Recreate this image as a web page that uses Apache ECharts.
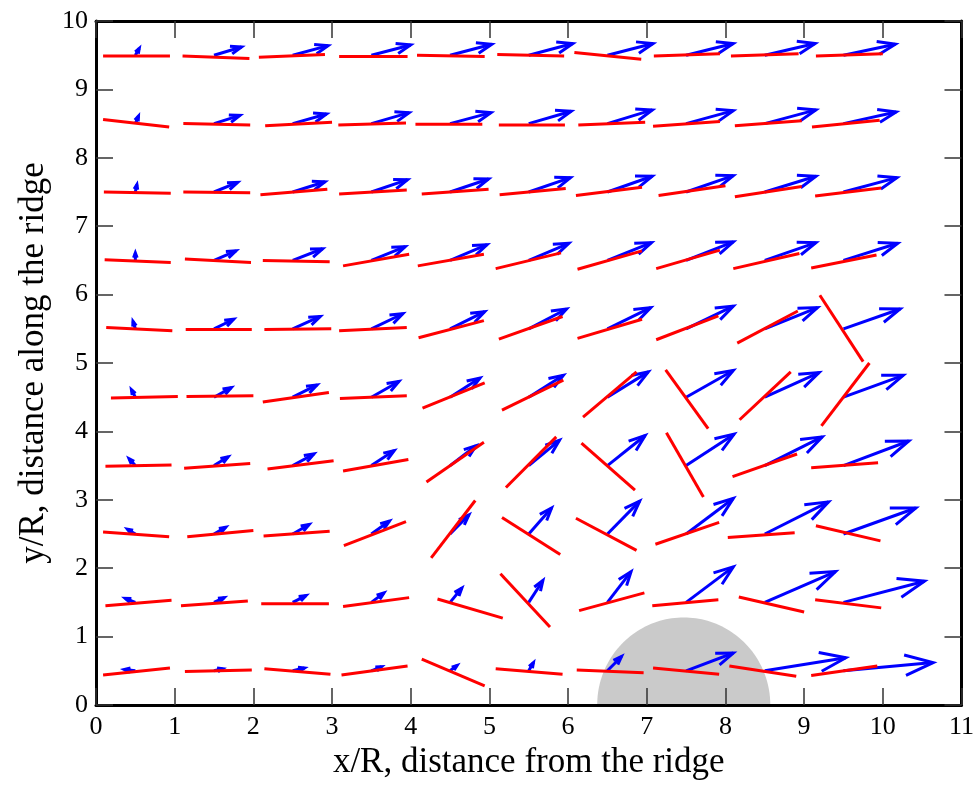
<!DOCTYPE html>
<html>
<head>
<meta charset="utf-8">
<script src="https://cdn.jsdelivr.net/npm/echarts@6/dist/echarts.min.js"></script>
<style>html,body{margin:0;padding:0;background:#fff}#c{width:977px;height:790px}</style>
</head>
<body>
<div id="c"></div>
<script>
// grid point positions (x/R and y/R)
const colX = [0.5, 1.5, 2.5, 3.5, 4.5, 5.5, 6.5, 7.5, 8.5, 9.5];
const rowY = [0.5, 1.5, 2.5, 3.5, 4.5, 5.5, 6.5, 7.5, 8.5, 9.5];

// blue arrows: components (u, v) in data units, rows from y=0.5 upward
const blueU = [
  [-0.14, 0.11, 0.15, 0.13, 0.09, 0.06, 0.18, 0.60, 1.03, 1.14],
  [-0.13, 0.13, 0.17, 0.16, 0.15, 0.18, 0.30, 0.60, 0.90, 1.03],
  [-0.10, 0.15, 0.21, 0.23, 0.24, 0.29, 0.41, 0.60, 0.81, 0.92],
  [-0.08, 0.18, 0.27, 0.29, 0.33, 0.39, 0.48, 0.61, 0.73, 0.83],
  [-0.05, 0.22, 0.31, 0.35, 0.38, 0.44, 0.52, 0.60, 0.69, 0.76],
  [-0.03, 0.25, 0.35, 0.40, 0.44, 0.48, 0.55, 0.60, 0.67, 0.72],
  [ 0.00, 0.28, 0.38, 0.43, 0.47, 0.51, 0.56, 0.60, 0.65, 0.69],
  [ 0.02, 0.30, 0.41, 0.46, 0.49, 0.53, 0.57, 0.60, 0.65, 0.68],
  [ 0.04, 0.33, 0.43, 0.48, 0.52, 0.54, 0.57, 0.60, 0.65, 0.67],
  [ 0.05, 0.35, 0.45, 0.50, 0.53, 0.56, 0.58, 0.60, 0.64, 0.66]
];
const blueV = [
  [0.02, 0.03, 0.04, 0.06, 0.08, 0.12, 0.21, 0.26, 0.19, 0.12],
  [0.06, 0.07, 0.10, 0.14, 0.21, 0.32, 0.45, 0.52, 0.45, 0.31],
  [0.07, 0.10, 0.14, 0.19, 0.28, 0.38, 0.48, 0.52, 0.47, 0.38],
  [0.10, 0.13, 0.17, 0.22, 0.29, 0.37, 0.44, 0.46, 0.42, 0.36],
  [0.11, 0.14, 0.18, 0.23, 0.28, 0.32, 0.37, 0.39, 0.36, 0.32],
  [0.11, 0.14, 0.18, 0.22, 0.25, 0.29, 0.31, 0.33, 0.31, 0.29],
  [0.11, 0.14, 0.17, 0.20, 0.23, 0.25, 0.26, 0.27, 0.26, 0.25],
  [0.11, 0.14, 0.15, 0.18, 0.19, 0.21, 0.23, 0.24, 0.23, 0.21],
  [0.11, 0.12, 0.14, 0.16, 0.16, 0.18, 0.20, 0.19, 0.20, 0.17],
  [0.10, 0.12, 0.14, 0.15, 0.16, 0.17, 0.17, 0.17, 0.17, 0.16]
];

// red segments: end offsets [x1, y1, x2, y2] from the grid point, data units
const redSeg = [
  [[-0.41,-0.06,0.44,0.04],[-0.37,-0.01,0.48,0.01],[-0.36,0.03,0.48,-0.05],[-0.38,-0.06,0.46,0.07],[-0.36,0.17,0.44,-0.22],
   [-0.42,0.03,0.43,-0.05],[-0.39,0.01,0.46,-0.03],[-0.42,0.04,0.42,-0.05],[-0.45,0.07,0.40,-0.08],[-0.41,-0.07,0.43,0.07]],
  [[-0.38,-0.05,0.46,0.03],[-0.42,-0.05,0.43,0.02],[-0.40,-0.02,0.46,-0.02],[-0.36,-0.06,0.48,0.07],[-0.16,0.05,0.67,-0.23],
   [-0.36,0.42,0.27,-0.36],[-0.36,-0.12,0.47,0.14],[-0.43,-0.05,0.41,0.04],[-0.33,0.08,0.50,-0.14],[-0.36,0.04,0.48,-0.08]],
  [[-0.41,0.03,0.43,-0.04],[-0.34,-0.04,0.50,0.05],[-0.37,-0.03,0.47,0.04],[-0.35,-0.17,0.44,0.18],[-0.24,-0.35,0.32,0.49],
   [-0.34,0.24,0.40,-0.30],[-0.40,0.23,0.37,-0.24],[-0.39,-0.15,0.42,0.17],[-0.47,-0.05,0.38,0.02],[-0.35,0.12,0.47,-0.10]],
  [[-0.38,-0.01,0.46,0.01],[-0.38,-0.04,0.46,0.03],[-0.32,-0.05,0.52,0.07],[-0.36,-0.08,0.47,0.09],[-0.30,-0.24,0.43,0.34],
   [-0.29,-0.32,0.35,0.42],[-0.33,0.33,0.35,-0.36],[-0.25,0.48,0.22,-0.46],[-0.41,-0.16,0.41,0.17],[-0.41,-0.03,0.44,0.04]],
  [[-0.31,-0.01,0.54,0.01],[-0.35,0.01,0.50,0.02],[-0.38,-0.07,0.46,0.07],[-0.40,-0.02,0.45,0.02],[-0.35,-0.16,0.44,0.21],
   [-0.34,-0.19,0.44,0.25],[-0.31,-0.29,0.37,0.37],[-0.26,0.40,0.28,-0.46],[-0.32,-0.33,0.33,0.37],[-0.28,-0.42,0.33,0.50]],
  [[-0.37,0.02,0.47,-0.03],[-0.36,-0.01,0.48,-0.01],[-0.36,-0.01,0.49,0.00],[-0.41,-0.03,0.45,0.02],[-0.40,-0.13,0.43,0.12],
   [-0.38,-0.15,0.43,0.18],[-0.38,-0.14,0.44,0.14],[-0.38,-0.16,0.41,0.19],[-0.35,-0.21,0.42,0.26],[-0.30,0.49,0.25,-0.48]],
  [[-0.39,0.01,0.45,-0.03],[-0.37,0.02,0.47,-0.03],[-0.38,0.00,0.47,-0.02],[-0.36,-0.08,0.48,0.09],[-0.41,-0.08,0.43,0.09],
   [-0.42,-0.12,0.41,0.11],[-0.38,-0.13,0.44,0.14],[-0.38,-0.12,0.43,0.15],[-0.40,-0.12,0.44,0.10],[-0.41,-0.11,0.42,0.08]],
  [[-0.40,0.00,0.45,-0.02],[-0.39,0.00,0.46,-0.01],[-0.41,-0.04,0.44,0.04],[-0.41,-0.03,0.45,0.03],[-0.36,-0.03,0.49,0.04],
   [-0.37,-0.04,0.47,0.05],[-0.40,-0.05,0.44,0.07],[-0.35,-0.05,0.50,0.09],[-0.38,-0.07,0.47,0.08],[-0.36,-0.06,0.48,0.06]],
  [[-0.41,0.06,0.43,-0.05],[-0.39,0.00,0.46,-0.02],[-0.35,-0.03,0.50,0.02],[-0.42,-0.02,0.44,0.01],[-0.44,-0.01,0.41,-0.01],
   [-0.38,-0.02,0.46,-0.02],[-0.37,-0.02,0.48,0.02],[-0.42,-0.04,0.43,0.03],[-0.38,-0.03,0.47,0.04],[-0.40,-0.05,0.46,0.05]],
  [[-0.41,-0.01,0.44,-0.01],[-0.40,-0.01,0.45,-0.05],[-0.43,-0.03,0.41,0.01],[-0.41,-0.02,0.46,-0.02],[-0.42,0.00,0.44,-0.02],
   [-0.40,0.01,0.45,-0.01],[-0.42,0.04,0.43,-0.06],[-0.41,-0.01,0.43,0.02],[-0.43,-0.01,0.43,0.02],[-0.35,-0.01,0.50,0.02]]
];

// grey half-disc (ridge): centre x, half-width and height in data units
const hillCenterX = [7.47];
const hillHalfWidth = [1.10];
const hillHeight = [1.28];

const xTickMax = 11, yTickMax = 10;

const FONT = "'Liberation Serif', 'Times New Roman', serif";

const pts = [];
for (let r = 0; r < rowY.length; r++) {
  for (let c = 0; c < colX.length; c++) {
    const s = redSeg[r][c];
    pts.push([colX[c], rowY[r], blueU[r][c], blueV[r][c], s[0], s[1], s[2], s[3]]);
  }
}

function renderHill(params, api) {
  const cx = api.value(0), rx = api.value(1), ry = api.value(2);
  const points = [];
  for (let i = 0; i <= 90; i++) {
    const t = Math.PI * i / 90;
    points.push(api.coord([cx + rx * Math.cos(t), ry * Math.sin(t)]));
  }
  return { type: 'polygon', shape: { points }, style: { fill: '#cacaca', stroke: null } };
}

function renderRed(params, api) {
  const x = api.value(0), y = api.value(1);
  const a = api.coord([x + api.value(4), y + api.value(5)]);
  const b = api.coord([x + api.value(6), y + api.value(7)]);
  return { type: 'line', shape: { x1: a[0], y1: a[1], x2: b[0], y2: b[1] },
           style: { stroke: '#ff0000', lineWidth: 3 } };
}

function renderBlue(params, api) {
  const x = api.value(0), y = api.value(1), u = api.value(2), v = api.value(3);
  const p0 = api.coord([x, y]), p1 = api.coord([x + u, y + v]);
  const dx = p1[0] - p0[0], dy = p1[1] - p0[1];
  const len = Math.hypot(dx, dy);
  const ang = Math.atan2(dy, dx);
  const h = 0.3 * len + 3, w = 20 * Math.PI / 180;
  const b1 = [p1[0] - h * Math.cos(ang - w), p1[1] - h * Math.sin(ang - w)];
  const b2 = [p1[0] - h * Math.cos(ang + w), p1[1] - h * Math.sin(ang + w)];
  return { type: 'group', children: [
    { type: 'polyline', shape: { points: [p0, p1] }, style: { stroke: '#0000ff', lineWidth: 3, fill: null } },
    { type: 'polyline', shape: { points: [b1, p1, b2] }, style: { stroke: '#0000ff', lineWidth: 3, fill: null, lineJoin: 'miter' } }
  ] };
}

const axisCommon = {
  type: 'value', splitLine: { show: false }, z: 10,
  axisLine: { show: true, onZero: false, lineStyle: { color: '#000', width: 3 } },
  axisTick: { show: true, inside: true, length: 17, lineStyle: { color: '#333', width: 1.5 } }
};

const chart = echarts.init(document.getElementById('c'), null, { renderer: 'canvas' });
chart.setOption({
  animation: false,
  backgroundColor: '#fff',
  grid: { left: 96, right: 12, top: 21, bottom: 85, containLabel: false },
  xAxis: [
    Object.assign({}, axisCommon, {
      min: 0, max: xTickMax, interval: 1, position: 'bottom',
      axisLabel: { fontFamily: FONT, fontSize: 26, color: '#000', margin: 9 },
      name: 'x/R, distance from the ridge', nameLocation: 'middle', nameGap: 23,
      nameTextStyle: { fontFamily: FONT, fontSize: 35, color: '#000' }
    }),
    Object.assign({}, axisCommon, {
      min: 0, max: xTickMax, interval: 1, position: 'top', axisLabel: { show: false }
    })
  ],
  yAxis: [
    Object.assign({}, axisCommon, {
      min: 0, max: yTickMax, interval: 1, position: 'left',
      axisLabel: { fontFamily: FONT, fontSize: 26, color: '#000', margin: 8 },
      name: 'y/R, distance along the ridge', nameLocation: 'middle', nameGap: 41, nameRotate: 90,
      nameTextStyle: { fontFamily: FONT, fontSize: 35, color: '#000' }
    }),
    Object.assign({}, axisCommon, {
      min: 0, max: yTickMax, interval: 1, position: 'right', axisLabel: { show: false }
    })
  ],
  series: [
    { type: 'custom', z: 1, clip: false, data: [[hillCenterX[0], hillHalfWidth[0], hillHeight[0]]],
      encode: { x: 0 }, renderItem: renderHill },
    { type: 'custom', z: 3, clip: false, data: pts, encode: { x: 0, y: 1 }, renderItem: renderBlue },
    { type: 'custom', z: 4, clip: false, data: pts, encode: { x: 0, y: 1 }, renderItem: renderRed }
  ]
});
</script>
</body>
</html>
